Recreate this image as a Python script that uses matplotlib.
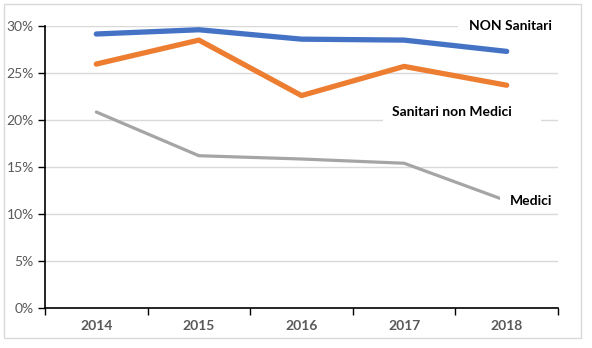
import numpy as np
import matplotlib.pyplot as plt
from matplotlib.patches import Rectangle
from matplotlib.ticker import FixedLocator, PercentFormatter

plt.rcParams['font.family'] = ['Lato', 'DejaVu Sans']

years = ['2014', '2015', '2016', '2017', '2018']
non_sanitari = [29.15, 29.6, 28.6, 28.5, 27.3]
sanitari_non_medici = [25.95, 28.5, 22.6, 25.7, 23.7]
medici = [20.85, 16.2, 15.85, 15.4, 11.4]

fig = plt.figure(figsize=(5.92, 3.48), dpi=100)
ax = fig.add_axes([45 / 592, 40 / 348, 513 / 592, 282 / 348])

# outer chart border
fig.patches.append(Rectangle((4 / 592, 10 / 348), 577 / 592, 334 / 348,
                             transform=fig.transFigure, fill=False,
                             edgecolor='#d9d9d9', linewidth=1))

x = np.arange(len(years))
ax.plot(x, non_sanitari, color='#4472c4', linewidth=3.8, solid_capstyle='round', zorder=3)
ax.plot(x, sanitari_non_medici, color='#ed7d31', linewidth=3.8, solid_capstyle='round', zorder=3)
ax.plot(x, medici, color='#a5a5a5', linewidth=2.3, solid_capstyle='round', zorder=3)

ax.set_xlim(-0.5, len(years) - 0.5)
ax.set_ylim(0, 30)
ax.set_yticks(np.arange(0, 31, 5))
ax.yaxis.set_major_formatter(PercentFormatter(decimals=0))
ax.set_xticks(x)
ax.set_xticklabels(years, fontweight='bold')
ax.xaxis.set_minor_locator(FixedLocator(np.arange(-0.5, len(years), 1)))
ax.tick_params(axis='x', which='major', length=0, pad=9, labelsize=10, labelcolor='#595959')
ax.tick_params(axis='x', which='minor', length=5, width=1, direction='out')
ax.tick_params(axis='y', length=5, width=1, labelsize=10, labelcolor='#595959', pad=3)

ax.grid(axis='y', color='#d9d9d9', linewidth=1, zorder=0)
ax.set_axisbelow(True)
for side in ['top', 'right']:
    ax.spines[side].set_visible(False)
ax.spines['left'].set_linewidth(1.2)
ax.spines['bottom'].set_linewidth(1.2)

# white label areas that interrupt the gridlines / line ends
ax.add_patch(Rectangle((3.53, 29.0), 0.97, 2.0, facecolor='white', edgecolor='none',
                       zorder=1, clip_on=False))
ax.add_patch(Rectangle((2.79, 19.6), 1.54, 2.4, facecolor='white', edgecolor='none',
                       zorder=1))
ax.add_patch(Rectangle((3.93, 10.45), 0.57, 2.1, facecolor='white', edgecolor='none',
                       zorder=3.5))

# series labels
ax.text(3.63, 30.0, 'NON Sanitari', fontsize=10, fontweight='bold', ha='left',
        va='center', zorder=4)
ax.text(2.88, 20.85, 'Sanitari non Medici', fontsize=10, fontweight='bold', ha='left',
        va='center', zorder=4)
ax.text(4.035, 11.4, 'Medici', fontsize=10, fontweight='bold', ha='left',
        va='center', zorder=4)

fig.savefig('out.png', dpi=100)
